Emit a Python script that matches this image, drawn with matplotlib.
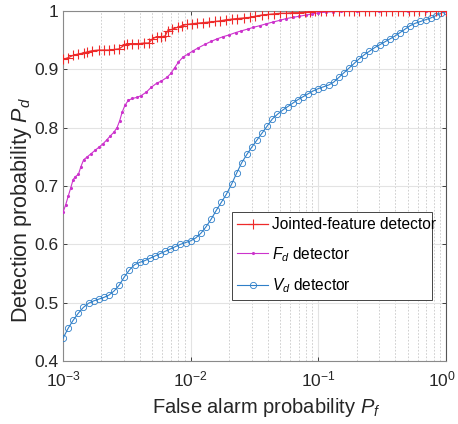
import numpy as np
import matplotlib
matplotlib.use("Agg")
import matplotlib.pyplot as plt
import matplotlib.transforms as mtransforms
from matplotlib.ticker import LogLocator, FixedLocator

plt.rcParams['font.family'] = ['Liberation Sans', 'DejaVu Sans']
plt.rcParams['mathtext.fontset'] = 'custom'
plt.rcParams['mathtext.rm'] = 'Liberation Sans'
plt.rcParams['mathtext.it'] = 'Liberation Sans:italic'

# detecteur joint (rouge)
pf_joint = [1.00e-3, 1.10e-3, 1.20e-3, 1.30e-3, 1.45e-3, 1.55e-3, 1.70e-3, 1.90e-3,
            2.10e-3, 2.30e-3, 2.50e-3, 2.75e-3, 3.00e-3, 3.15e-3, 3.50e-3, 3.90e-3,
            4.30e-3, 4.70e-3, 5.00e-3, 5.40e-3, 5.90e-3, 6.30e-3, 6.60e-3, 7.20e-3,
            7.90e-3, 8.60e-3, 9.40e-3, 1.02e-2, 1.12e-2, 1.25e-2, 1.40e-2, 1.55e-2,
            1.70e-2, 1.90e-2, 2.10e-2, 2.30e-2, 2.60e-2, 2.90e-2, 3.20e-2, 3.60e-2,
            4.00e-2, 4.50e-2, 5.00e-2, 5.60e-2, 6.20e-2, 7.00e-2, 7.80e-2, 8.60e-2,
            9.50e-2, 0.105, 0.115, 0.13, 0.145, 0.16, 0.175, 0.19, 0.21, 0.23, 0.25,
            0.28, 0.31, 0.34, 0.38, 0.42, 0.46, 0.51, 0.56, 0.62, 0.68, 0.75, 0.83,
            0.91, 1.0]
pd_joint = [0.917, 0.920, 0.924, 0.926, 0.928, 0.930, 0.932, 0.933,
            0.933, 0.933, 0.934, 0.935, 0.941, 0.944, 0.944, 0.944,
            0.945, 0.945, 0.952, 0.956, 0.956, 0.957, 0.966, 0.969,
            0.972, 0.975, 0.977, 0.978, 0.979, 0.980, 0.981, 0.982,
            0.983, 0.985, 0.986, 0.987, 0.988, 0.989, 0.991, 0.993,
            0.994, 0.995, 0.996, 0.996, 0.997, 0.997, 0.998, 0.999,
            1.0, 1.0, 1.0, 1.0, 1.0, 1.0, 1.0, 1.0, 1.0, 1.0, 1.0,
            1.0, 1.0, 1.0, 1.0, 1.0, 1.0, 1.0, 1.0, 1.0, 1.0, 1.0, 1.0,
            1.0, 1.0]

# detecteur Fd (magenta)
pf_fd = [1.00e-3, 1.05e-3, 1.10e-3, 1.15e-3, 1.20e-3, 1.25e-3, 1.32e-3, 1.38e-3,
         1.45e-3, 1.55e-3, 1.65e-3, 1.78e-3, 1.90e-3, 2.05e-3, 2.20e-3, 2.35e-3,
         2.50e-3, 2.65e-3, 2.78e-3, 2.90e-3, 3.05e-3, 3.25e-3, 3.50e-3, 3.80e-3,
         4.10e-3, 4.50e-3, 4.90e-3, 5.40e-3, 5.90e-3, 6.50e-3, 7.00e-3, 7.50e-3,
         8.00e-3, 8.70e-3, 9.50e-3, 1.05e-2, 1.15e-2, 1.30e-2, 1.45e-2, 1.60e-2,
         1.80e-2, 2.00e-2, 2.25e-2, 2.50e-2, 2.80e-2, 3.10e-2, 3.50e-2, 3.90e-2,
         4.40e-2, 5.00e-2, 5.60e-2, 6.30e-2, 7.10e-2, 8.00e-2, 9.00e-2, 0.10,
         0.115, 0.13, 0.15, 0.2, 0.3, 0.5, 0.7, 1.0]
pd_fd = [0.655, 0.668, 0.683, 0.697, 0.711, 0.716, 0.720, 0.733,
         0.745, 0.750, 0.755, 0.761, 0.766, 0.772, 0.779, 0.786,
         0.792, 0.800, 0.812, 0.826, 0.838, 0.847, 0.850, 0.852,
         0.855, 0.861, 0.869, 0.876, 0.880, 0.886, 0.893, 0.903,
         0.912, 0.921, 0.926, 0.932, 0.937, 0.943, 0.948, 0.952,
         0.956, 0.959, 0.963, 0.966, 0.969, 0.972, 0.975, 0.978,
         0.981, 0.984, 0.987, 0.989, 0.991, 0.993, 0.995, 0.997,
         0.998, 0.999, 1.0, 1.0, 1.0, 1.0, 1.0, 1.0]

# detecteur Vd (bleu), exposants log10(Pf)
log_pf_vd = [-3.00, -2.96, -2.92, -2.88, -2.84, -2.80, -2.76, -2.72, -2.68, -2.64,
             -2.60, -2.56, -2.52, -2.48, -2.44, -2.40, -2.36, -2.32, -2.28, -2.24,
             -2.20, -2.16, -2.12, -2.08, -2.04, -2.00, -1.96, -1.92, -1.88, -1.84,
             -1.80, -1.76, -1.72, -1.68, -1.64, -1.60, -1.56, -1.52, -1.48, -1.44,
             -1.40, -1.36, -1.32, -1.28, -1.24, -1.20, -1.16, -1.12, -1.08, -1.04,
             -1.00, -0.96, -0.92, -0.88, -0.84, -0.80, -0.76, -0.72, -0.68, -0.64,
             -0.60, -0.56, -0.52, -0.48, -0.44, -0.40, -0.36, -0.32, -0.28, -0.24,
             -0.20, -0.16, -0.12, -0.08, -0.04, 0.00]
pd_vd = [0.439, 0.456, 0.470, 0.482, 0.492, 0.499, 0.503, 0.506, 0.509, 0.513,
         0.520, 0.530, 0.544, 0.556, 0.565, 0.569, 0.572, 0.576, 0.580, 0.584,
         0.588, 0.592, 0.596, 0.600, 0.603, 0.606, 0.611, 0.619, 0.630, 0.643,
         0.658, 0.672, 0.686, 0.703, 0.722, 0.740, 0.754, 0.767, 0.779, 0.791,
         0.803, 0.815, 0.823, 0.830, 0.836, 0.842, 0.848, 0.853, 0.858, 0.863,
         0.867, 0.870, 0.873, 0.878, 0.886, 0.894, 0.902, 0.910, 0.918, 0.925,
         0.931, 0.937, 0.942, 0.947, 0.952, 0.957, 0.963, 0.969, 0.975, 0.979,
         0.982, 0.985, 0.988, 0.992, 0.996, 1.0]
pf_vd = 10.0 ** np.array(log_pf_vd)

fig = plt.figure(figsize=(4.58, 4.24), dpi=100)
ax = fig.add_axes([0.1376, 0.1486, 0.8362, 0.8255])

ax.plot(pf_vd, pd_vd, color='#2f7fc8', lw=0.8, marker='o', ms=4.5, mfc='none', mew=0.6,
        label='$V_d$ detector', zorder=3)
ax.plot(pf_fd, pd_fd, color='#cc33cc', lw=0.8, marker='.', ms=2.5,
        label='$F_d$ detector', zorder=4)
ax.plot(pf_joint, pd_joint, color='#ee2a2a', lw=0.9, marker='+', ms=7, mew=0.8,
        label='Jointed-feature detector', zorder=5)

ax.set_xscale('log')
ax.set_xlim(1e-3, 1)
ax.set_ylim(0.4, 1)
ax.set_yticks([0.4, 0.5, 0.6, 0.7, 0.8, 0.9, 1])
ax.set_yticklabels(['0.4', '0.5', '0.6', '0.7', '0.8', '0.9', '1'])
ax.xaxis.set_major_locator(FixedLocator([1e-3, 1e-2, 1e-1, 1]))
ax.xaxis.set_minor_locator(LogLocator(base=10, subs=np.arange(2, 10)))

ax.grid(True, which='major', color='#e3e3e3', lw=0.8, linestyle='-')
ax.grid(True, which='minor', axis='x', color='#c8c8c8', lw=0.6, linestyle=(0, (2, 2)))
ax.set_axisbelow(True)

ax.tick_params(which='both', direction='in', top=True, right=True, labelsize=12.5,
               colors='#262626', length=3, width=0.6)
ax.tick_params(which='minor', length=0)
ax.tick_params(axis='x', pad=6)
for s in ax.spines.values():
    s.set_color('#8a8a8a')
    s.set_linewidth(0.8)
ax.spines['right'].set_color('#555555')

ax.set_xlabel('False alarm probability $P_f$', fontsize=14.5, color='#262626')
ax.set_ylabel('Detection probability $P_d$', fontsize=15.5, color='#262626')
ax.xaxis.set_label_coords(0.53, -0.1)
ax.yaxis.set_label_coords(-0.075, 0.43)

leg = ax.legend(handles=ax.get_lines()[::-1], loc='lower left',
                bbox_to_anchor=(0.441, 0.174, 0.522, 0.266), mode='expand',
                fontsize=11.2, fancybox=False, framealpha=1, edgecolor='#444444',
                handlelength=2.0, handletextpad=0.2, borderpad=0.35, labelspacing=0.8,
                borderaxespad=0)
leg.get_frame().set_linewidth(0.7)

# decaler un peu le label 10^0 pour qu'il ne soit pas coupe
fig.canvas.draw()
lab = ax.get_xticklabels()[-1]
lab.set_transform(lab.get_transform() + mtransforms.ScaledTranslation(-4 / 100, 0, fig.dpi_scale_trans))

fig.savefig('out.png', dpi=100)
